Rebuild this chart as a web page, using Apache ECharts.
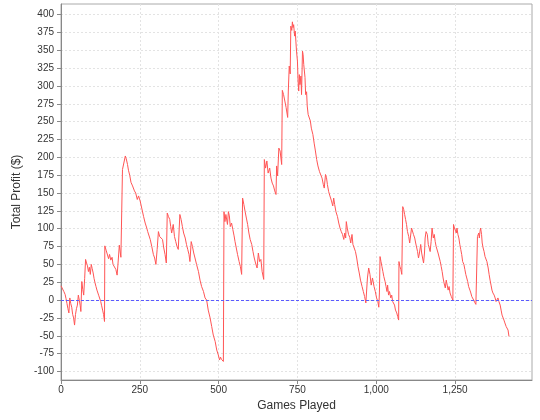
<!DOCTYPE html>
<html>
<head>
<meta charset="utf-8">
<script src="https://cdn.jsdelivr.net/npm/echarts@6/dist/echarts.min.js"></script>
<style>
  html, body { margin: 0; padding: 0; background: #fff; }
  #chart { width: 540px; height: 420px; }
</style>
</head>
<body>
<div id="chart"></div>
<script>
// running total profit, [game, profit $]
var walk = [
  [0,20],[3,18],[6,19],[9,12],[13,8],[16,2],[19,-5],[22,-12],[25,-18],[28,3],[31,-5],[34,-10],
  [37,-20],[40,-25],[43,-35],[46,-20],[49,-12],[52,-7],[55,7],[58,0],[61,-8],[63,-16],[66,26],
  [69,15],[72,7],[75,30],[78,57],[81,52],[84,48],[87,40],[90,46],[93,36],[96,50],[99,44],[102,38],
  [105,30],[108,24],[111,19],[114,14],[117,12],[120,6],[123,4],[126,-2],[129,-8],[132,-14],[135,-20],
  [138,-30],[139,76],[143,70],[147,68],[151,58],[154,64],[158,56],[162,60],[165,50],[169,52],[174,43],
  [178,35],[181,52],[185,77],[190,60],[194,60],[195,183],[200,185],[204,202],[207,198],[211,190],
  [214,182],[218,175],[222,165],[227,160],[233,153],[237,150],[242,141],[246,146],
  [251,139],[256,129],[262,117],[267,108],[272,101],[275,96],[280,94],[283,85],[288,75],[293,64],
  [297,59],[301,50],[305,71],[309,96],[313,89],[318,91],[322,85],[326,73],[330,64],[334,52],[337,122],
  [341,117],[345,113],[348,103],[351,94],[356,106],[360,89],[364,82],[368,75],[372,71],[377,120],
  [381,113],[385,103],[389,94],[394,87],[398,78],[402,71],[406,64],[409,54],[413,82],[417,75],[421,66],
  [425,59],[430,50],[436,40],[441,28],[446,19],[452,12],[457,3],[462,0],[467,-14],[473,-25],[478,-37],
  [483,-49],[489,-58],[494,-70],[499,-77],[503,-84],
  [506,-80],[509,-83],[512,-81],[515,-86],[517,124],[520,110],[523,120],[528,106],[531,124],[534,118],
  [537,103],[541,108],[545,99],[549,90],[552,82],[556,73],[560,64],[565,54],[569,47],[573,36],[576,143],
  [580,134],[584,124],[588,115],[592,106],[596,94],[600,85],[605,78],[609,68],[613,59],[617,52],[622,45],
  [626,66],[630,54],[634,57],[638,40],[643,29],[645,197],[649,185],[653,195],[657,178],[662,185],[666,171],
  [670,164],[674,160],[678,153],[682,148],[684,188],[687,174],[691,213],[695,209],[700,190],[702,294],
  [706,288],[710,279],[714,270],[719,256],[721,293],[724,328],[727,317],[729,384],
  [732,378],[734,390],[736,382],[738,386],[741,370],[743,377],[745,363],[747,349],[750,335],[752,307],
  [754,293],[756,316],[758,302],[761,314],[763,288],[766,349],[768,344],[770,330],[772,332],[774,312],
  [776,288],[779,292],[781,272],[784,260],[788,258],[791,251],[794,241],[799,232],[803,220],[807,209],
  [811,197],[815,188],[820,180],[824,178],[828,171],[832,162],[835,157],[839,176],[842,172],[845,162],
  [849,152],[853,146],[858,139],[862,132],[865,143],[868,134],[872,124],[877,117],[881,108],[885,101],
  [889,96],[893,92],[897,85],[900,94],[903,87],[905,110],[908,101],[912,92],[916,88],[919,80],[923,92],
  [926,78],[929,78],[934,68],[938,59],[942,47],[946,38],[950,28],[955,19],[959,12],[963,5],[967,-4],
  [972,31],[976,45],[980,36],[984,21],[988,31],[993,19],[997,12],[1001,3],[1005,-2],[1008,-10],
  [1010,10],[1012,61],[1015,54],[1018,47],[1021,40],[1024,33],[1028,26],[1031,19],[1034,12],[1036,21],
  [1039,7],[1042,12],[1046,3],[1049,7],[1052,-2],[1055,0],[1058,-7],[1061,-14],[1065,-18],[1068,-23],
  [1071,-28],[1072,54],[1075,47],[1078,43],[1081,36],[1084,131],[1087,127],[1090,120],[1093,113],
  [1096,106],[1099,96],[1103,89],[1106,80],[1109,78],[1112,101],[1115,101],[1118,92],[1122,87],[1125,80],
  [1128,78],[1131,68],[1134,59],[1137,66],[1141,78],[1144,66],[1147,59],[1150,52],[1153,66],[1155,87],
  [1158,96],[1162,92],[1165,78],[1168,73],[1171,68],[1174,82],[1177,101],[1181,87],[1184,92],[1187,82],
  [1190,75],[1193,73],[1196,66],[1200,59],[1203,54],[1206,47],[1209,40],[1212,31],[1215,24],[1219,17],
  [1222,28],[1225,21],[1228,14],[1231,19],[1234,10],[1238,5],[1241,3],[1243,0],[1245,106],[1248,101],
  [1252,101],[1254,94],[1256,101],[1259,92],[1262,87],[1265,78],[1268,71],[1271,64],[1274,54],[1278,50],
  [1281,43],[1284,36],[1287,31],[1290,26],[1293,19],[1297,14],[1300,10],[1303,5],[1306,3],[1309,0],
  [1312,-3],[1316,-6],[1319,-4],[1321,89],[1325,94],[1327,87],[1329,96],[1331,101],[1334,92],[1336,80],
  [1339,73],[1342,68],[1345,61],[1348,59],[1351,54],[1355,45],[1358,36],[1361,28],[1364,21],[1367,14],
  [1370,10],[1374,7],[1377,3],[1380,-2],[1383,-4],[1386,3],[1389,-2],[1393,-7],[1396,-14],[1399,-21],
  [1402,-23],[1405,-28],[1408,-32],[1412,-37],[1415,-35],[1418,-42],[1421,-51]
];
var yTicks = [-100,-75,-50,-25,0,25,50,75,100,125,150,175,200,225,250,275,300,325,350,375,400];
var xTicks = [0,250,500,750,1000,1250];

var chart = echarts.init(document.getElementById('chart'));
var font = 'Liberation Sans, Arial, sans-serif';
chart.setOption({
  animation: false,
  backgroundColor: '#fff',
  grid: {
    left: 61, right: 8, top: 4, bottom: 40,
    show: true, backgroundColor: '#fff', borderColor: '#aaa', borderWidth: 1
  },
  xAxis: {
    type: 'value', min: 0, max: 1494,
    name: 'Games Played', nameLocation: 'middle', nameGap: 20,
    nameTextStyle: { fontFamily: font, fontSize: 12, color: '#333' },
    axisLine: { onZero: false, lineStyle: { color: '#888' } },
    axisTick: { customValues: xTicks, length: 4, lineStyle: { color: '#888' } },
    axisLabel: {
      customValues: xTicks, margin: 5, fontFamily: font, fontSize: 10, color: '#333',
      formatter: function (v) { return v.toLocaleString('en-US'); }
    },
    splitLine: { show: true, lineStyle: { color: '#e3e3e3', type: [2, 2] } }
  },
  yAxis: {
    type: 'value', min: -112, max: 415,
    name: 'Total Profit ($)', nameLocation: 'middle', nameGap: 35,
    nameTextStyle: { fontFamily: font, fontSize: 12, color: '#333' },
    axisLine: { show: true, onZero: false, lineStyle: { color: '#888' } },
    axisTick: { show: true, customValues: yTicks, length: 4, lineStyle: { color: '#888' } },
    axisLabel: { customValues: yTicks, margin: 7, fontFamily: font, fontSize: 10, color: '#333' },
    splitLine: { show: true, lineStyle: { color: '#e3e3e3', type: [2, 2] } }
  },
  series: [{
    type: 'line',
    data: walk,
    showSymbol: false,
    lineStyle: { color: '#ff5555', width: 1 },
    markLine: {
      silent: true, symbol: 'none', label: { show: false },
      lineStyle: { color: '#5a5aff', type: [3, 2], width: 1 },
      data: [{ yAxis: 0 }]
    }
  }]
});
</script>
</body>
</html>
